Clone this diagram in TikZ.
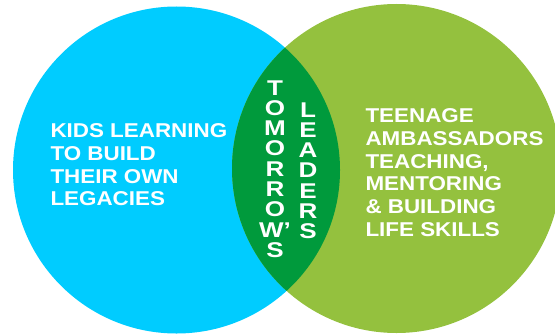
\documentclass[tikz,border=0pt]{standalone}
\usepackage{fontspec}
\newfontfamily\vennfont[FakeStretch=1.12]{Liberation Sans}
\newfontfamily\stackfont[FakeStretch=1.22]{Liberation Sans}
\definecolor{kidsblue}{RGB}{0,204,255}
\definecolor{teengreen}{RGB}{148,193,62}
\definecolor{leadgreen}{RGB}{0,154,60}

\tikzset{every picture/.style={line width=0.75pt}}
\tikzset{
  venntext/.style={anchor=north west,inner sep=0pt,align=left,text=white,
    font=\vennfont\bfseries\fontsize{15}{17.1}\selectfont},
  stacktext/.style={anchor=north,inner sep=0pt,align=center,text=white,
    font=\stackfont\bfseries\fontsize{16}{15.2}\selectfont}
}

\begin{document}
\begin{tikzpicture}[x=0.75pt,y=0.75pt,yscale=-1,xscale=1]
\useasboundingbox (0,0) rectangle (555,335);
\clip (0,0) rectangle (555,335);

%Circle: kids
\fill [kidsblue] (176.5,170) circle (163.5);
%Circle: teens
\fill [teengreen] (396.5,168.5) circle (164.5);
%Lens: overlap
\begin{scope}
  \clip (176.5,170) circle (163.5);
  \fill [leadgreen] (396.5,168.5) circle (164.5);
\end{scope}

% Text Node
\node [venntext] (kids) at (50,123) {KIDS LEARNING\\TO BUILD\\THEIR OWN\\LEGACIES};
% Text Node
\node [venntext] (teens) at (365,108) {TEENAGE\\AMBASSADORS\\TEACHING,\\MENTORING\\\&~BUILDING\\LIFE SKILLS};
% Text Node
\node [stacktext] (tomorrows) at (275,80) {T\\O\\M\\O\\R\\R\\O\\W’\\S};
% Text Node
\node [stacktext] (leaders) at (308,102) {L\\E\\A\\D\\E\\R\\S};

\end{tikzpicture}
\end{document}
